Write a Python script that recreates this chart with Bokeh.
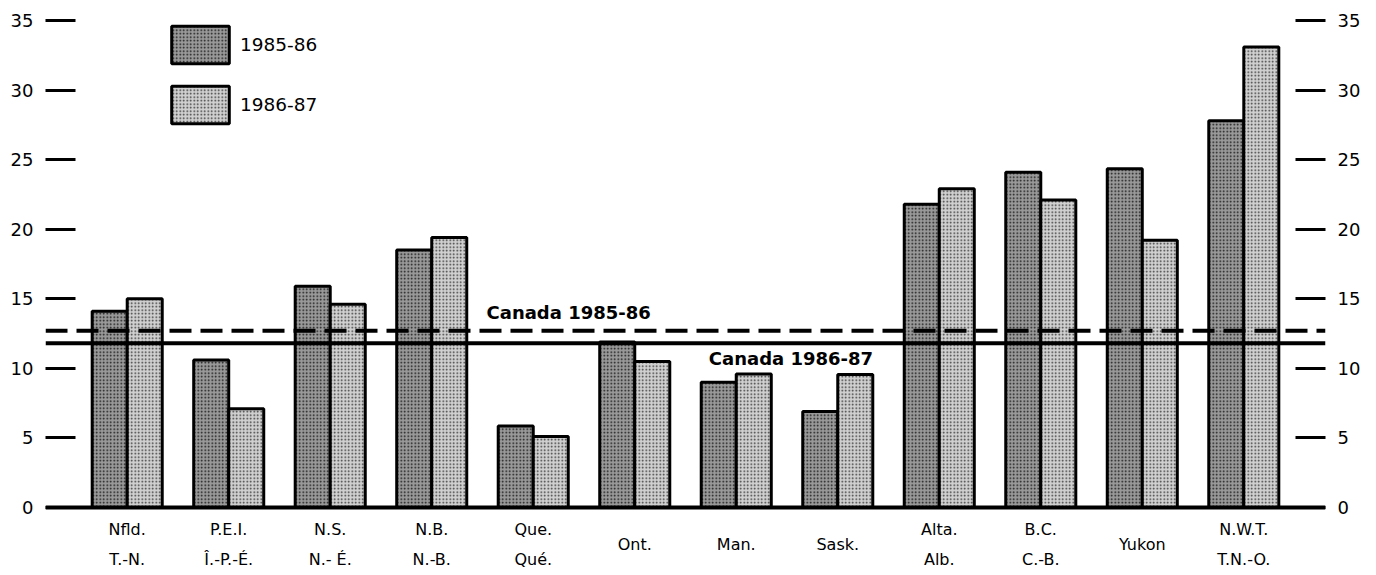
from bokeh.plotting import figure
from bokeh.models import (FactorRange, Span, Label, LinearAxis, FixedTicker,
                          Legend, LegendItem, ColumnDataSource)
from bokeh.transform import dodge
from bokeh.core.properties import value
from bokeh.embed import file_html
from bokeh.resources import INLINE

# ---- data ----
keys = ["Nfld", "PEI", "NS", "NB", "Que", "Ont", "Man", "Sask", "Alta", "BC", "Yukon", "NWT"]
labels = ["Nfld.\nT.-N.", "P.E.I.\nÎ.-P.-É.", "N.S.\nN.- É.", "N.B.\nN.-B.", "Que.\nQué.",
          "Ont.", "Man.", "Sask.", "Alta.\nAlb.", "B.C.\nC.-B.", "Yukon", "N.W.T.\nT.N.-O."]
v_1985_86 = [14.1, 10.6, 15.9, 18.5, 5.85, 11.9, 9.0, 6.9, 21.8, 24.1, 24.35, 27.8]
v_1986_87 = [15.0, 7.1, 14.6, 19.4, 5.1, 10.5, 9.6, 9.55, 22.9, 22.1, 19.2, 33.1]
canada_1985_86 = 12.7
canada_1986_87 = 11.8
y_ticks = [0, 5, 10, 15, 20, 25, 30, 35]
series_names = ["1985-86", "1986-87"]

FONT = "DejaVu Sans"

src = ColumnDataSource(dict(cat=keys, lab=labels, a=v_1985_86, b=v_1986_87,
                            zero=[0] * len(keys)))

p = figure(width=1376, height=575, output_backend="svg", toolbar_location=None,
           x_range=FactorRange(*keys, range_padding=0.305, range_padding_units="absolute"),
           y_range=(-4.89, 35.72), x_axis_location=None,
           min_border_left=45, min_border_right=51, min_border_top=10, min_border_bottom=0)
p.outline_line_color = None
p.xgrid.visible = False
p.ygrid.visible = False
p.background_fill_color = "white"
p.border_fill_color = "white"

r1 = p.vbar(x=dodge("cat", -0.1725, range=p.x_range), top="a", width=0.345, source=src,
            fill_color="#999999", hatch_pattern="dot", hatch_scale=3.5, hatch_weight=1.7,
            hatch_color="#151515", line_color="black", line_width=3)
r2 = p.vbar(x=dodge("cat", 0.1725, range=p.x_range), top="b", width=0.345, source=src,
            fill_color="#d0d0d0", hatch_pattern="dot", hatch_scale=3.5, hatch_weight=1.2,
            hatch_color="#353535", line_color="black", line_width=3)

# category labels below the baseline
p.text(x="cat", y="zero", text="lab", source=src, text_align="center",
       text_baseline="middle", y_offset=37, text_font=value(FONT),
       text_font_size="16px", text_color="black", text_line_height=1.55)

# baseline and Canada averages
p.add_layout(Span(location=0, dimension="width", line_color="black", line_width=4))
p.add_layout(Span(location=canada_1985_86, dimension="width", line_color="black",
                  line_width=4, line_dash="22 9"))
p.add_layout(Span(location=canada_1986_87, dimension="width", line_color="black",
                  line_width=4))
p.add_layout(Label(x=4.04, y=canada_1985_86, y_offset=18, text="Canada 1985-86",
                   text_font=FONT, text_font_style="bold", text_font_size="18px",
                   text_color="black", text_baseline="middle", text_align="left"))
p.add_layout(Label(x=6.23, y=canada_1986_87, y_offset=-15, text="Canada 1986-87",
                   text_font=FONT, text_font_style="bold", text_font_size="18px",
                   text_color="black", text_baseline="middle", text_align="left"))

# y axes with inward ticks
def style_axis(ax):
    ax.ticker = FixedTicker(ticks=y_ticks)
    ax.axis_line_color = None
    ax.major_tick_in = 30
    ax.major_tick_out = 0
    ax.minor_tick_line_color = None
    ax.major_tick_line_width = 3
    ax.major_tick_line_color = "black"
    ax.major_label_text_font = FONT
    ax.major_label_text_font_size = "18px"
    ax.major_label_text_color = "black"
    ax.major_label_standoff = 12

style_axis(p.yaxis[0])
right = LinearAxis()
style_axis(right)
p.add_layout(right, "right")

legend = Legend(items=[LegendItem(label=series_names[0], renderers=[r1]),
                       LegendItem(label=series_names[1], renderers=[r2])],
                location=(119, 447), glyph_width=72, glyph_height=47, spacing=13,
                padding=0, margin=0, label_standoff=4, border_line_color=None,
                background_fill_alpha=0, label_text_font=FONT,
                label_text_font_size="18.5px", label_text_color="black")
p.add_layout(legend)

open("out.html", "w").write(file_html(p, INLINE))
